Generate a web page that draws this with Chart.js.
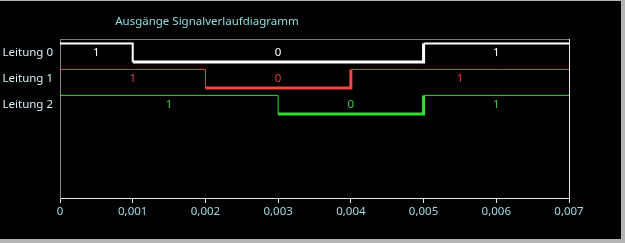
<!DOCTYPE html>
<html><head><meta charset="utf-8">
<script src="https://cdn.jsdelivr.net/npm/chart.js@4"></script>
<style>
html,body{margin:0;padding:0;background:#b4b4b4;}
#wrap{position:relative;width:625px;height:243px;background:#b4b4b4;overflow:hidden}
#c{position:absolute;left:0;top:1px;background:#000;width:621px;height:238px}
</style></head><body><div id="wrap"><canvas id="c" width="621" height="238"></canvas></div>
<script>
const chartTitle = 'Ausgänge Signalverlaufdiagramm';
const lineNames = ['Leitung 0', 'Leitung 1', 'Leitung 2'];
const times = [0, 0.001, 0.002, 0.003, 0.004, 0.005, 0.006, 0.007];
const leitung0 = [1, 0, 0, 0, 0, 1, 1, 1];
const leitung1 = [1, 1, 0, 0, 1, 1, 1, 1];
const leitung2 = [1, 1, 1, 0, 0, 1, 1, 1];
const xTickValues = [0, 0.001, 0.002, 0.003, 0.004, 0.005, 0.006, 0.007];

const signals = [leitung0, leitung1, leitung2];
const lineColors = ['#ffffff', '#f04848', '#33dd33'];
const labelColors = ['#ffffff', '#d84444', '#3ccc3c'];
const highWidths = [2, 1, 1];
const lowWidths = [3, 3, 3];
const FONT = '"Noto Sans", "Open Sans", sans-serif';
const FSIZE = 11.5;

function levelOf(lane, v) { return lane + (v ? -0.37 : 0.35); }

const datasets = signals.map((sig, lane) => ({
  label: lineNames[lane],
  data: times.map((t, i) => ({ x: t, y: levelOf(lane, sig[i]) })),
  borderColor: lineColors[lane],
  borderWidth: lowWidths[lane],
  stepped: true,
  pointRadius: 0,
  fill: false,
  segment: {
    borderWidth: ctx => (ctx.p0.parsed.y < lane ? highWidths[lane] : lowWidths[lane])
  }
}));

const overlay = {
  id: 'overlay',
  afterDatasetsDraw(chart) {
    const c = chart.ctx;
    const xs = chart.scales.x, ys = chart.scales.y;
    c.save();
    c.font = FSIZE + 'px ' + FONT;
    c.textAlign = 'center';
    c.textBaseline = 'middle';
    signals.forEach((sig, lane) => {
      let start = 0;
      for (let i = 1; i <= sig.length; i++) {
        const end = (i === sig.length) || sig[i] !== sig[start];
        if (end) {
          const stop = i === sig.length ? sig.length - 1 : i;
          const mid = (times[start] + times[stop]) / 2;
          c.fillStyle = labelColors[lane];
          c.fillText(String(sig[start]), xs.getPixelForValue(mid), ys.getPixelForValue(lane));
          start = i;
        }
      }
    });
    c.fillStyle = '#8edde4';
    c.fillText(chartTitle, 207, 21);
    c.restore();
  }
};

new Chart(document.getElementById('c'), {
  type: 'line',
  data: { datasets },
  options: {
    responsive: false,
    animation: false,
    devicePixelRatio: 1,
    layout: { padding: 0 },
    plugins: { legend: { display: false }, title: { display: false }, tooltip: { enabled: false } },
    scales: {
      x: {
        type: 'linear', position: 'bottom', min: 0, max: 0.007,
        afterBuildTicks: s => { s.ticks = xTickValues.map(v => ({ value: v })); },
        afterFit: s => { s.height = 41; },
        grid: { display: true, drawOnChartArea: false, drawTicks: true, tickLength: 5, color: '#e8e8e8' },
        border: { display: true, color: '#e8e8e8', width: 1 },
        ticks: {
          color: '#9fdbe6', padding: 2, maxRotation: 0,
          font: { family: FONT, size: FSIZE },
          callback: v => (v === 0 ? '0' : Number(v).toFixed(3).replace('.', ','))
        }
      },
      xTop: {
        type: 'linear', position: 'top', min: 0, max: 0.007,
        afterFit: s => { s.height = 38; },
        grid: { display: false, drawTicks: false },
        border: { display: true, color: '#7a7a7a', width: 1 },
        ticks: { display: false }
      },
      y: {
        type: 'linear', position: 'left', reverse: true, min: -0.5385, max: 5.577,
        afterBuildTicks: s => { s.ticks = lineNames.map((n, i) => ({ value: i })); },
        afterFit: s => { s.width = 60; },
        grid: { display: false, drawTicks: false },
        border: { display: true, color: '#8a8a8a', width: 1 },
        ticks: {
          color: '#d6eef4', padding: 7,
          font: { family: FONT, size: FSIZE },
          callback: v => lineNames[v]
        }
      },
      yRight: {
        type: 'linear', position: 'right', min: 0, max: 1,
        afterFit: s => { s.width = 52; },
        grid: { display: false, drawTicks: false },
        border: { display: true, color: '#e8e8e8', width: 1 },
        ticks: { display: false }
      }
    }
  },
  plugins: [overlay]
});
</script>
</body></html>
